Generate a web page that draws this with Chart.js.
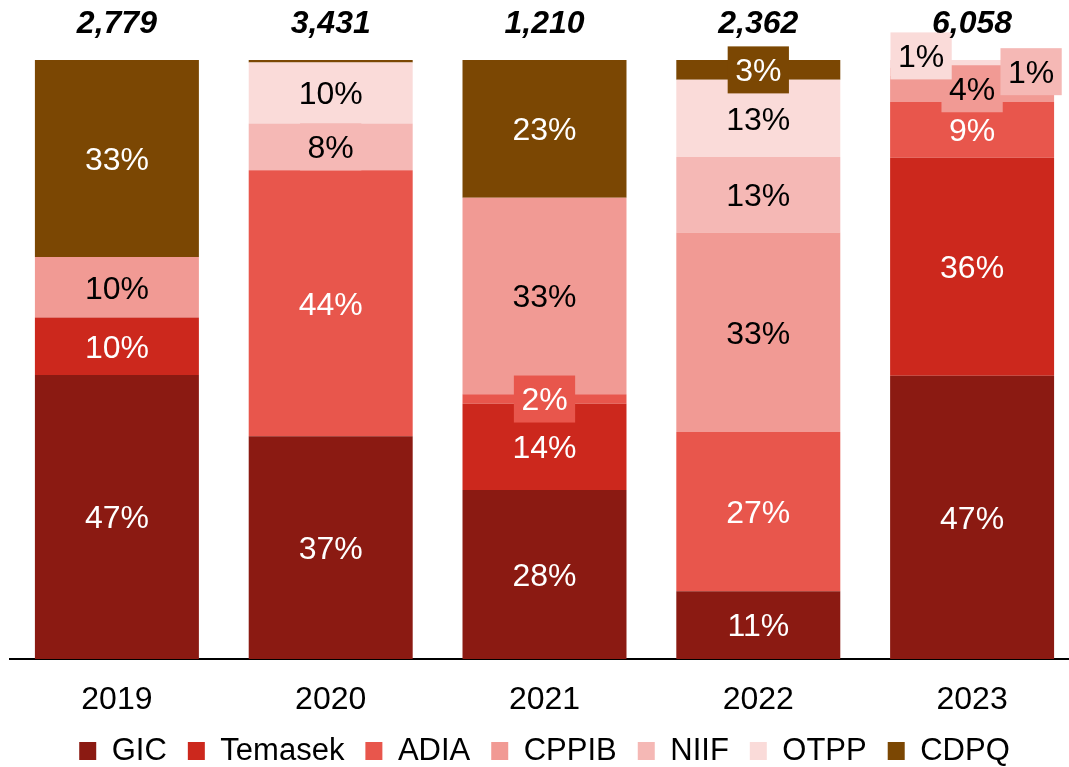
<!DOCTYPE html>
<html>
<head>
<meta charset="utf-8">
<title>Deals by investor</title>
<script src="https://cdn.jsdelivr.net/npm/chart.js@4.4.1/dist/chart.umd.min.js"></script>
<style>
  html, body { margin: 0; padding: 0; background: #ffffff; overflow: hidden; }
  #wrap { width: 1090px; height: 767px; }
</style>
</head>
<body>
<div id="wrap"><canvas id="chart" width="1090" height="767"></canvas></div>
<script>
// Categories and totals (USD mn) shown above each column
const years = ['2019', '2020', '2021', '2022', '2023'];
const totals = ['2,779', '3,431', '1,210', '2,362', '6,058'];

// Share of each year's total by investor, in percent
const gic     = [47.4, 37.2, 28.2, 11.3, 47.3];
const temasek = [ 9.6,  0.0, 14.4,  0.0, 36.4];
const adia    = [ 0.0, 44.4,  1.6, 26.6,  9.3];
const cppib   = [10.1,  0.0, 32.8, 33.3,  4.4];
const niif    = [ 0.0,  7.8,  0.0, 12.6,  1.3];
const otpp    = [ 0.0, 10.2,  0.0, 12.9,  1.3];
const cdpq    = [32.9,  0.4, 23.0,  3.3,  0.0];

const FONT = "'Liberation Sans', Arial, sans-serif";

const series = [
  { label: 'GIC',     data: gic,     color: '#8B1A12', text: '#ffffff' },
  { label: 'Temasek', data: temasek, color: '#CC281D', text: '#ffffff' },
  { label: 'ADIA',    data: adia,    color: '#E8564C', text: '#ffffff' },
  { label: 'CPPIB',   data: cppib,   color: '#F19A94', text: '#000000' },
  { label: 'NIIF',    data: niif,    color: '#F5B8B5', text: '#000000' },
  { label: 'OTPP',    data: otpp,    color: '#FADBD9', text: '#000000' },
  { label: 'CDPQ',    data: cdpq,    color: '#7B4703', text: '#ffffff' }
];

// Thin slices whose labels are moved aside so they stay readable: [dx, dy]
const labelNudge = {
  'OTPP': { 4: [-51, -8] },
  'NIIF': { 4: [59, 0] }
};

// Percentage labels on a tag filled with the segment colour
const segmentLabels = {
  id: 'segmentLabels',
  afterDatasetsDraw(chart) {
    const ctx = chart.ctx;
    ctx.save();
    ctx.font = '32px ' + FONT;
    ctx.textAlign = 'center';
    ctx.textBaseline = 'middle';
    chart.data.datasets.forEach((ds, di) => {
      const meta = chart.getDatasetMeta(di);
      meta.data.forEach((bar, i) => {
        const v = ds.data[i];
        if (!v || v < 1) return;
        const txt = Math.round(v) + '%';
        const nudge = (labelNudge[ds.label] || {})[i] || [0, 0];
        const cx = bar.x + nudge[0];
        const cy = (bar.y + bar.base) / 2 + nudge[1];
        const w = ctx.measureText(txt).width + 15;
        const h = 47;
        const hgt = Math.abs(bar.base - bar.y);
        if (hgt < h || nudge[0] !== 0) {
          ctx.fillStyle = ds.backgroundColor;
          ctx.fillRect(cx - w / 2, cy - h / 2, w, h);
        }
        ctx.fillStyle = ds.textColor;
        ctx.fillText(txt, cx, cy + 2.5);
      });
    });
    ctx.restore();
  }
};

// Year totals above the columns
const totalLabels = {
  id: 'totalLabels',
  afterDatasetsDraw(chart) {
    const ctx = chart.ctx;
    const xs = chart.scales.x;
    ctx.save();
    ctx.font = 'italic bold 32px ' + FONT;
    ctx.fillStyle = '#000000';
    ctx.textAlign = 'center';
    ctx.textBaseline = 'alphabetic';
    totals.forEach((t, i) => {
      ctx.fillText(t, xs.getPixelForValue(i), 33);
    });
    ctx.restore();
  }
};

new Chart(document.getElementById('chart'), {
  type: 'bar',
  data: {
    labels: years,
    datasets: series.map(s => ({
      label: s.label,
      data: s.data,
      backgroundColor: s.color,
      textColor: s.text,
      borderWidth: 0,
      categoryPercentage: 1.0,
      barPercentage: 0.767
    }))
  },
  options: {
    responsive: false,
    animation: false,
    devicePixelRatio: 1,
    layout: { padding: { left: 10, right: 11, top: 60, bottom: -9.5 } },
    scales: {
      x: {
        stacked: true,
        z: 1,
        grid: { display: false, drawTicks: false },
        border: { display: true, color: '#000000', width: 2 },
        ticks: { color: '#000000', font: { size: 32, family: FONT }, padding: 22 },
        afterFit(scale) { scale.height = 55.5; }
      },
      y: {
        stacked: true,
        display: false,
        min: 0,
        max: 100
      }
    },
    plugins: {
      legend: {
        position: 'bottom',
        labels: {
          boxWidth: 17,
          boxHeight: 18,
          padding: 21,
          color: '#000000',
          font: { size: 31, family: FONT }
        }
      },
      tooltip: { enabled: false }
    }
  },
  plugins: [segmentLabels, totalLabels]
});
</script>
</body>
</html>
